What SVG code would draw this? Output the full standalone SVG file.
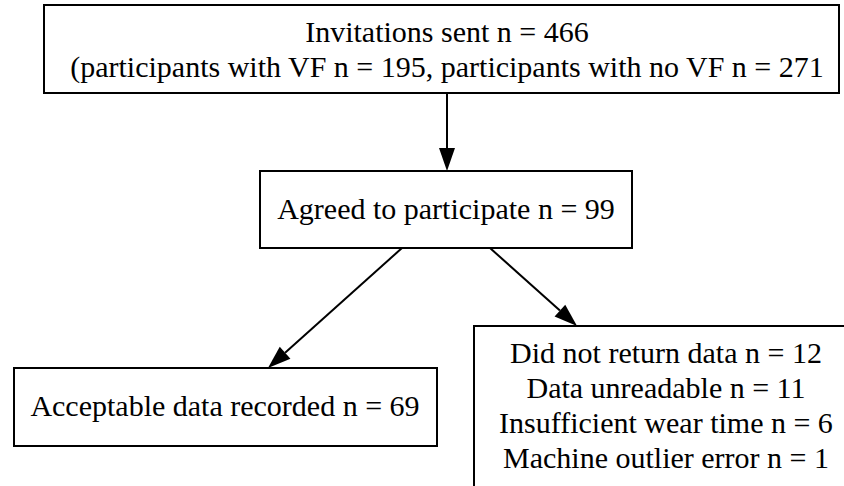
<svg xmlns="http://www.w3.org/2000/svg" width="844" height="486" viewBox="0 0 844 486">
<style>
.box{fill:#fff;stroke:#000;stroke-width:2}
.t{font-family:"Liberation Serif","Times New Roman",serif;font-size:30px;fill:#000;text-anchor:middle}
.edge{stroke:#000;stroke-width:2;fill:none;marker-end:url(#ah)}
</style>
<defs>
<marker id="ah" markerUnits="userSpaceOnUse" markerWidth="24" markerHeight="18" refX="0" refY="9" orient="auto" overflow="visible">
<path d="M0,1 L23,9 L0,17 z" fill="#000"/>
</marker>
</defs>
<rect width="844" height="486" fill="#fff"/>
<g id="edges">
<line class="edge" x1="447" y1="93" x2="447" y2="148"/>
<line class="edge" x1="402" y1="248" x2="285.1" y2="352.7"/>
<line class="edge" x1="490" y1="248" x2="559.9" y2="310.6"/>
</g>
<g id="invitations">
<rect class="box" x="44" y="5" width="795" height="88"/>
<text class="t" x="447" y="42">Invitations sent n = 466</text>
<text class="t" x="447" y="77">(participants with VF n = 195, participants with no VF n = 271</text>
</g>
<g id="agreed">
<rect class="box" x="260" y="171" width="372" height="77"/>
<text class="t" x="446" y="219">Agreed to participate n = 99</text>
</g>
<g id="acceptable">
<rect class="box" x="14" y="368" width="423" height="78"/>
<text class="t" x="225" y="416">Acceptable data recorded n = 69</text>
</g>
<g id="excluded">
<rect class="box" x="474" y="326" width="390" height="180"/>
<text class="t" x="666" y="363">Did not return data n = 12</text>
<text class="t" x="666" y="398">Data unreadable n = 11</text>
<text class="t" x="666" y="433">Insufficient wear time n = 6</text>
<text class="t" x="666" y="468">Machine outlier error n = 1</text>
</g>
</svg>
